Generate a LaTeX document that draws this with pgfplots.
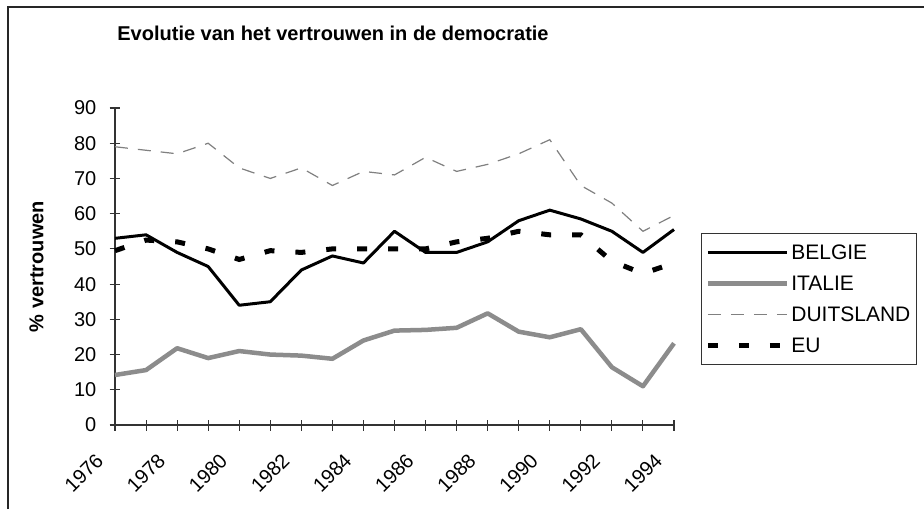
\documentclass[border=0pt]{standalone}
\usepackage{fontspec}
\setmainfont{Liberation Sans}
\usepackage{pgfplots}
\pgfplotsset{compat=1.18}
\begin{document}
\begin{tikzpicture}[x=1pt,y=1pt]
\useasboundingbox (0,0) rectangle (924,-509);
\fill[white] (0,0) rectangle (924,-509);
\draw[line width=1.5pt, black!85] (8,-509) -- (8,-7) -- (924,-7);
\begin{axis}[
  at={(115pt,-425pt)}, anchor=south west,
  width=559pt, height=317pt, scale only axis,
  clip=false,
  xmin=1976, xmax=1994, ymin=0, ymax=90,
  axis x line=bottom, axis y line=left,
  axis line style={-, line width=1.2pt, black!80},
  tick align=center, major tick length=11pt, minor tick length=11pt,
  tick style={line width=1.1pt, black!80},
  xtick={1976,1978,...,1994},
  minor xtick={1977,1979,...,1993},
  xticklabels={1976,1978,1980,1982,1984,1986,1988,1990,1992,1994},
  ytick={0,10,...,90},
  /pgf/number format/assume math mode=true,
  ticklabel style={font=\fontsize{20}{22}\selectfont},
  xticklabel shift=30pt,
  xticklabel style={rotate=45, anchor=south east, inner sep=0pt, xshift=-8.5pt, yshift=5.9pt},
  yticklabel style={anchor=east, inner sep=0pt, xshift=-13pt},
  ylabel={\% vertrouwen},
  ylabel style={font=\fontsize{20}{22}\selectfont\bfseries, at={(axis description cs:-0.1404,0.5)}, anchor=center},
  title={Evolutie van het vertrouwen in de democratie},
  title style={font=\fontsize{20}{22}\selectfont\bfseries, at={(axis description cs:0.39,1)}, anchor=base, yshift=62pt},
  legend style={at={(axis description cs:1.048,0.606)}, anchor=north west, draw=black!80, line width=1pt,
    font=\fontsize{21}{23}\selectfont, inner xsep=4pt, inner ysep=9pt, row sep=11pt, legend cell align=left},
  legend image code/.code={\draw[#1] (0pt,0pt) -- (79pt,0pt);},
]
\addplot[black, line width=3pt, line join=round] coordinates {
(1976,53) (1977,54) (1978,49) (1979,45) (1980,34) (1981,35) (1982,44) (1983,48) (1984,46) (1985,55)
(1986,49) (1987,49) (1988,52) (1989,58) (1990,61) (1991,58.5) (1992,55) (1993,49) (1994,55.5)};
\addlegendentry{BELGIE}
\addplot[black!45, line width=4.5pt, line join=round] coordinates {
(1976,14.2) (1977,15.6) (1978,21.8) (1979,19) (1980,21) (1981,20) (1982,19.7) (1983,18.8) (1984,24) (1985,26.8)
(1986,27) (1987,27.6) (1988,31.7) (1989,26.5) (1990,24.9) (1991,27.2) (1992,16.4) (1993,11) (1994,23.2)};
\addlegendentry{ITALIE}
\addplot[black!50, line width=1.2pt, dash pattern=on 13pt off 10pt] coordinates {
(1976,79) (1977,78) (1978,77) (1979,80) (1980,73) (1981,70) (1982,73) (1983,68) (1984,72) (1985,71)
(1986,76) (1987,72) (1988,74) (1989,77) (1990,81) (1991,68) (1992,63) (1993,55) (1994,59.5)};
\addlegendentry{DUITSLAND}
\addplot[black, line width=5pt, dash pattern=on 10pt off 21pt] coordinates {
(1976,49.5) (1977,52.5) (1978,52) (1979,50) (1980,47) (1981,49.5) (1982,49) (1983,50) (1984,50) (1985,50)
(1986,50) (1987,52) (1988,53) (1989,55) (1990,54) (1991,54) (1992,46.5) (1993,43) (1994,46)};
\addlegendentry{EU}
\end{axis}
\end{tikzpicture}
\end{document}
